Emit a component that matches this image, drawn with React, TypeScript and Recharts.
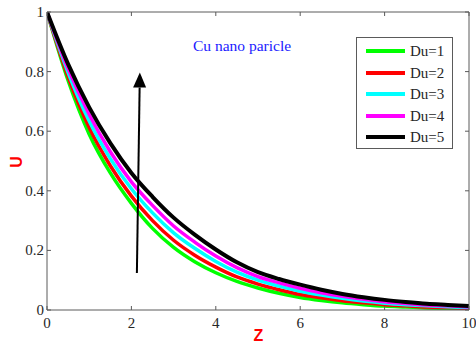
import React from 'react';
import { LineChart, Line, XAxis, YAxis, Legend, ReferenceLine, Customized } from 'recharts';

const zValues = [0, 0.5, 1, 1.5, 2, 2.5, 3, 3.5, 4, 4.5, 5, 5.5, 6, 6.5, 7, 7.5, 8, 8.5, 9, 9.5, 10];
const du1 = [1, 0.77, 0.59, 0.46, 0.358, 0.274, 0.21, 0.162, 0.125, 0.096, 0.074, 0.056, 0.042, 0.032, 0.024, 0.018, 0.013, 0.01, 0.007, 0.005, 0.003];
const du2 = [1, 0.783, 0.612, 0.484, 0.382, 0.3, 0.234, 0.184, 0.144, 0.111, 0.087, 0.068, 0.052, 0.041, 0.031, 0.024, 0.018, 0.014, 0.01, 0.008, 0.005];
const du3 = [1, 0.797, 0.634, 0.508, 0.407, 0.326, 0.259, 0.207, 0.163, 0.127, 0.1, 0.08, 0.063, 0.05, 0.039, 0.03, 0.023, 0.018, 0.014, 0.011, 0.008];
const du4 = [1, 0.81, 0.656, 0.531, 0.43, 0.351, 0.282, 0.228, 0.181, 0.142, 0.112, 0.091, 0.073, 0.058, 0.046, 0.036, 0.028, 0.022, 0.017, 0.014, 0.01];
const du5 = [1, 0.825, 0.68, 0.56, 0.46, 0.38, 0.31, 0.253, 0.203, 0.16, 0.127, 0.104, 0.085, 0.068, 0.054, 0.043, 0.034, 0.027, 0.021, 0.017, 0.013];

const seriesNames = ['Du=1', 'Du=2', 'Du=3', 'Du=4', 'Du=5'];
const seriesKeys = ['du1', 'du2', 'du3', 'du4', 'du5'];
const seriesColors = ['#00ff00', '#ff0000', '#00ffff', '#ff00ff', '#000000'];
const seriesWidths = [3.5, 3.5, 3.5, 3.5, 4];
const xTicks = [0, 2, 4, 6, 8, 10];
const yTicks = [0, 0.2, 0.4, 0.6, 0.8, 1];
const yTickLabels = ['0', '0.2', '0.4', '0.6', '0.8', '1'];
const arrowStart = { z: 2.13, u: 0.124 };
const arrowEnd = { z: 2.2, u: 0.797 };

const allSeries = [du1, du2, du3, du4, du5];
const data = zValues.map((z, i) => {
  const row: Record<string, number> = { z };
  seriesKeys.forEach((k, j) => {
    row[k] = allSeries[j][i];
  });
  return row;
});

const AXIS = '#5a5a5a';
const TXT = '#262626';
const SERIF = '"Liberation Serif", "Times New Roman", serif';
const SANS = '"Liberation Sans", Arial, sans-serif';

const BottomTick = (props: any) => {
  const { x, y, payload } = props;
  return (
    <g>
      <line x1={x} y1={y} x2={x} y2={y - 4} stroke={AXIS} strokeWidth={1} />
      <text x={x} y={y + 18} textAnchor="middle" style={{ fontFamily: SERIF, fontSize: 15 }} fill={TXT}>
        {payload.value}
      </text>
    </g>
  );
};

const TopTick = (props: any) => {
  const { x, y } = props;
  return <line x1={x} y1={y} x2={x} y2={y + 4} stroke={AXIS} strokeWidth={1} />;
};

const LeftTick = (props: any) => {
  const { x, y, payload, index } = props;
  const idx = yTicks.indexOf(payload.value);
  return (
    <g>
      <line x1={x} y1={y} x2={x + 4} y2={y} stroke={AXIS} strokeWidth={1} />
      <text x={x - 3} y={y + 5} textAnchor="end" style={{ fontFamily: SERIF, fontSize: 15 }} fill={TXT}>
        {idx >= 0 ? yTickLabels[idx] : yTickLabels[index]}
      </text>
    </g>
  );
};

const RightTick = (props: any) => {
  const { x, y } = props;
  return <line x1={x} y1={y} x2={x - 4} y2={y} stroke={AXIS} strokeWidth={1} />;
};

const ArrowShape = (props: any) => {
  const { x1, y1, x2, y2 } = props;
  if ([x1, y1, x2, y2].some((v) => typeof v !== 'number' || isNaN(v))) return null;
  const dx = x2 - x1;
  const dy = y2 - y1;
  const len = Math.sqrt(dx * dx + dy * dy) || 1;
  const ux = dx / len;
  const uy = dy / len;
  const headLen = 15;
  const headHalf = 6.5;
  const bx = x2 - ux * headLen;
  const by = y2 - uy * headLen;
  const nx = -uy;
  const ny = ux;
  const pts = `${x2},${y2} ${bx + nx * headHalf},${by + ny * headHalf} ${bx - nx * headHalf},${by - ny * headHalf}`;
  return (
    <g>
      <line x1={x1} y1={y1} x2={bx} y2={by} stroke="#000" strokeWidth={2} />
      <polygon points={pts} fill="#000" />
    </g>
  );
};

const LegendContent = (props: any) => {
  const payload: any[] = props.payload || [];
  return (
    <div
      style={{
        width: 95,
        height: 110,
        border: `1px solid ${AXIS}`,
        background: '#fff',
        boxSizing: 'content-box',
        position: 'relative',
      }}
    >
      {payload.map((p, i) => (
        <div
          key={i}
          style={{
            position: 'absolute',
            left: 0,
            top: 13 + i * 21.5 - 10,
            height: 20,
            width: 95,
          }}
        >
          <div
            style={{
              position: 'absolute',
              left: 9,
              top: 8,
              width: 39,
              height: 4,
              background: p.color,
            }}
          />
          <span
            style={{
              position: 'absolute',
              left: 53,
              top: 0,
              fontFamily: SERIF,
              fontSize: 15,
              lineHeight: '20px',
              color: TXT,
              whiteSpace: 'nowrap',
            }}
          >
            {p.value}
          </span>
        </div>
      ))}
    </div>
  );
};

const Annotations = () => (
  <g>
    <text x={193} y={51} style={{ fontFamily: SERIF, fontSize: 15.5 }} fill="#1a1aff">
      Cu nano paricle
    </text>
    <text x={258.5} y={341} textAnchor="middle" style={{ fontFamily: SANS, fontWeight: 'bold', fontSize: 16 }} fill="#ff0000">
      Z
    </text>
    <text
      x={0}
      y={0}
      transform="translate(21.5,162) rotate(-90)"
      textAnchor="middle"
      style={{ fontFamily: SANS, fontWeight: 'bold', fontSize: 16 }}
      fill="#ff0000"
    >
      U
    </text>
  </g>
);

export default function App() {
  return (
    <div style={{ position: 'absolute', left: 0, top: 0, width: 476, height: 348, background: '#fff' }}>
      <LineChart width={476} height={348} data={data} margin={{ top: 0, right: 0, bottom: 0, left: 0 }}>
        <XAxis
          dataKey="z"
          type="number"
          domain={[0, 10]}
          ticks={xTicks}
          allowDataOverflow
          height={38}
          tickSize={0}
          tickMargin={0}
          tick={<BottomTick />}
          axisLine={{ stroke: AXIS }}
          tickLine={false}
          interval={0}
        />
        <XAxis
          xAxisId="top"
          orientation="top"
          dataKey="z"
          type="number"
          domain={[0, 10]}
          ticks={xTicks}
          allowDataOverflow
          height={12}
          tickSize={0}
          tickMargin={0}
          tick={<TopTick />}
          axisLine={{ stroke: AXIS }}
          tickLine={false}
          interval={0}
        />
        <YAxis
          type="number"
          domain={[0, 1]}
          ticks={yTicks}
          allowDataOverflow
          width={47}
          tickSize={0}
          tickMargin={0}
          tick={<LeftTick />}
          axisLine={{ stroke: AXIS }}
          tickLine={false}
          interval={0}
        />
        <YAxis
          yAxisId="right"
          orientation="right"
          type="number"
          domain={[0, 1]}
          ticks={yTicks}
          allowDataOverflow
          width={7}
          tickSize={0}
          tickMargin={0}
          tick={<RightTick />}
          axisLine={{ stroke: AXIS }}
          tickLine={false}
          interval={0}
        />
        {seriesKeys.map((k, i) => (
          <Line
            key={k}
            dataKey={k}
            name={seriesNames[i]}
            type="monotone"
            stroke={seriesColors[i]}
            strokeWidth={seriesWidths[i]}
            dot={false}
            activeDot={false}
            isAnimationActive={false}
          />
        ))}
        <ReferenceLine
          segment={[
            { x: arrowStart.z, y: arrowStart.u },
            { x: arrowEnd.z, y: arrowEnd.u },
          ]}
          shape={<ArrowShape />}
          ifOverflow="visible"
        />
        <Legend
          layout="vertical"
          align="center"
          verticalAlign="middle"
          content={<LegendContent />}
          wrapperStyle={{ position: 'absolute', left: 356, top: 37, width: 97, height: 112 }}
        />
        <Customized component={<Annotations />} />
      </LineChart>
    </div>
  );
}
